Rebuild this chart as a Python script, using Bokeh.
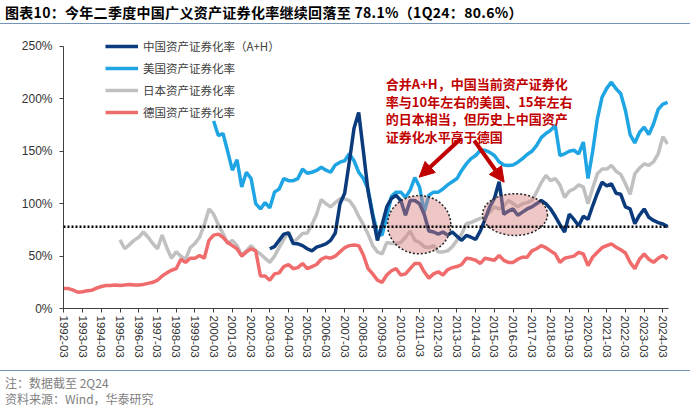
import numpy as np
from bokeh.plotting import figure
from bokeh.models import (Range1d, FixedTicker, Span, Label, Arrow, NormalHead, Div,
                          Legend, LegendItem, ColumnDataSource)
from bokeh.layouts import column
from bokeh.embed import file_html
from bokeh.resources import INLINE

# ---------------- data (quarterly, 1992-03 .. 2024-06), percent ----------------
tick_years = list(range(1992, 2025))
tick_labels = [f"{y}-03" for y in tick_years]
y_ticks = [0, 50, 100, 150, 200, 250]
y_tick_labels = ["0%", "50%", "100%", "150%", "200%", "250%"]

germany = [
    19, 19, 17.5, 15.5,  16, 17, 17.5, 19.5,  21, 22, 22, 22.5,  22, 22.5, 23, 22.5,
    22.5, 23, 24, 25,  27, 31, 34, 36.5,  38, 47, 44, 48,  48, 50.5, 48, 65,
    70, 71, 68, 63,  60, 57, 50, 54,  57, 55, 31, 31,  27, 33, 34, 40,
    42, 38, 39, 43,  38, 40, 42, 47,  49, 48, 50, 54,  58, 60, 60.5, 60,
    51, 38, 33, 27,  25, 32, 36, 38,  32, 33, 38, 43,  43, 35, 29, 33,
    35, 32, 37, 39,  40, 42, 48, 47.4,  46, 43, 48, 47,  46, 50.6, 46, 44,
    44, 47, 49, 49,  55, 57, 60, 58,  55, 52, 44, 48,  49, 50, 53.6, 52,
    41, 49, 53.6, 58,  60, 61.7, 58.5, 56,  53, 44, 38, 47,  52, 47, 44, 48,
    50.6, 47.4,
]

japan = [None] * 12 + [
    65.5, 57, 61, 65,  68, 73, 68, 62,  57, 70, 58, 48,  54, 50, 47, 58,
    62, 68, 80, 95,  90, 80, 71.5, 62,  65, 60, 50.6, 55,  60, 55, 52, 48,
    44, 50, 58, 66,  73, 63, 67, 71.5,  72, 80, 90, 104,  100, 97, 101, 104.7,
    104.7, 103, 97, 88,  80, 71, 60, 54,  52, 63, 62, 62,  63, 68, 74, 65,
    63, 59, 58, 60,  54, 54, 55, 59,  65, 71, 81, 82,  84, 86, 87, 92,
    97, 95, 98, 103,  100, 97, 100, 101,  103, 111, 120, 127,  122, 124, 118, 106,
    112, 114, 118, 116,  100, 115, 128.5, 133,  133, 136.5, 131, 128,  119, 109, 128.5, 134,
    138, 136.5, 140, 147.6,  164, 157,
]

usa = [None] * 32 + [
    179, 165, 167, 150,  132, 142, 116, 130,  124, 100, 95, 101,  96, 111, 114, 124,
    122, 122, 124, 133,  129, 130, 131.7, 134.8,  132, 130, 137, 139.6,  141, 147.6, 141, 130,
    124, 114, 90, 72,  70, 88, 107, 111,  111, 106, 113, 125,  116, 92, 108, 111,
    111, 114, 118, 121,  124, 131.7, 138, 143,  146, 151, 151, 149,  146, 140, 137, 136.5,
    137, 139.6, 143, 147,  150, 155.5, 163, 167,  170, 174.6, 146, 147.6,  150, 151, 147.6, 158.8,
    124, 150, 181, 201.6,  210, 216, 209.6, 205,  189, 166, 158, 168,  173, 166, 176, 190,
    195, 196.8,
]

china = [None] * 44 + [
    57, 59, 65, 71,  72, 62, 61.7, 60,  57, 55, 58.5, 60,  61.7, 65, 72, 100,
    110, 140, 172, 187,  150, 112, 88, 65,  80, 97, 105, 108,  103, 89, 103, 103,
    100, 90, 74, 73,  71, 73, 70, 73,  69, 65, 69.7, 68,  66, 74, 85, 97,
    105, 121, 90, 93,  95, 89, 92, 95,  97, 100, 103, 100,  95, 88, 80, 73,
    90, 85, 79, 88,  85, 98, 110, 120.5,  117, 119, 110, 109,  97, 95, 81, 89,
    95, 87, 84, 82,  80.6, 78.1,
]

china_now = 78.1

series_names = ["中国资产证券化率（A+H）", "美国资产证券化率", "日本资产证券化率", "德国资产证券化率"]
series_colors = ["#0b3b7c", "#1fa5e3", "#c0c0c0", "#f06b6b"]

annotation_lines = [
    "合并A+H，中国当前资产证券化",
    "率与10年左右的美国、15年左右",
    "的日本相当，但历史上中国资产",
    "证券化水平高于德国",
]

title_text = "图表10：今年二季度中国广义资产证券化率继续回落至 78.1%（1Q24：80.6%）"
note_text = "注：数据截至 2Q24"
source_text = "资料来源：Wind，华泰研究"

# ---------------- build ----------------
quarter_x = [tick_years[0] + i * 0.25 for i in range(len(germany))]
src = ColumnDataSource(dict(
    x=quarter_x,
    de=np.array(germany, dtype=float),
    jp=np.array(japan, dtype=float),
    us=np.array(usa, dtype=float),
    cn=np.array(china, dtype=float),
))

CJK = "Noto Sans CJK SC"
LAT = "Liberation Sans"

p = figure(width=700, height=337, output_backend="svg", toolbar_location=None,
           x_range=Range1d(1991.98, 2024.30), y_range=Range1d(0, 261.45),
           min_border_left=63, min_border_right=32, min_border_top=1, min_border_bottom=62)
p.outline_line_color = None
p.grid.visible = False
p.background_fill_color = "white"
p.border_fill_color = "white"

r_jp = p.line("x", "jp", source=src, line_color=series_colors[2], line_width=3.5)
r_de = p.line("x", "de", source=src, line_color=series_colors[3], line_width=3.5)
r_us = p.line("x", "us", source=src, line_color=series_colors[1], line_width=3.5)
r_cn = p.line("x", "cn", source=src, line_color=series_colors[0], line_width=3.5)

p.add_layout(Span(location=china_now, dimension="width", line_color="black",
                  line_width=2.5, line_dash="2 2"))

# highlighted regions
p.ellipse(x=[2010.98, 2016.1], y=[80, 89.6], width=[3.38, 3.47], height=[55.6, 39.8],
          fill_color="#d98080", fill_alpha=0.45, line_color="#222222",
          line_dash="2 2", line_width=1.5)

# arrows
for xs, ys, xe, ye in [(2013.2, 162, 2010.98, 125.3), (2013.92, 160.3, 2015.52, 120.5)]:
    p.add_layout(Arrow(end=NormalHead(size=15, fill_color="#c00000", line_color="#c00000"),
                       x_start=xs, y_start=ys, x_end=xe, y_end=ye,
                       line_color="#c00000", line_width=4))

for i, line in enumerate(annotation_lines):
    p.add_layout(Label(x=2009.2, y=214.4, y_offset=-i * 17.5, text=line,
                       text_font=CJK, text_font_style="bold", text_font_size="13px",
                       text_color="#c00000", text_baseline="middle", text_align="left"))

# axes
xa = p.xaxis[0]
xa.ticker = FixedTicker(ticks=tick_years)
xa.major_label_overrides = {y: l for y, l in zip(tick_years, tick_labels)}
xa.major_label_orientation = "vertical"
xa.minor_tick_line_color = None
xa.major_tick_in = 0
xa.major_tick_out = 4
xa.major_label_standoff = 3
xa.major_label_text_font = LAT
xa.major_label_text_font_size = "11.5px"
xa.major_label_text_color = "#333333"
xa.axis_line_color = "#404040"
xa.major_tick_line_color = "#404040"

ya = p.yaxis[0]
ya.ticker = FixedTicker(ticks=y_ticks)
ya.major_label_overrides = {t: l for t, l in zip(y_ticks, y_tick_labels)}
ya.bounds = (0, 250)
ya.minor_tick_line_color = None
ya.major_tick_in = 0
ya.major_tick_out = 4
ya.major_label_standoff = 7
ya.major_label_text_font = LAT
ya.major_label_text_font_size = "12px"
ya.major_label_text_color = "#333333"
ya.axis_line_color = "#404040"
ya.major_tick_line_color = "#404040"

legend = Legend(items=[LegendItem(label=series_names[0], renderers=[r_cn]),
                       LegendItem(label=series_names[1], renderers=[r_us]),
                       LegendItem(label=series_names[2], renderers=[r_jp]),
                       LegendItem(label=series_names[3], renderers=[r_de])],
                location=(42, 186), padding=0, spacing=2, label_height=20, glyph_height=20,
                glyph_width=33, label_standoff=5, border_line_color=None,
                background_fill_alpha=0, label_text_font=CJK, label_text_font_size="11.5px",
                label_text_color="#404040")
p.add_layout(legend)

title_div = Div(text=(
    "<div style=\"width:690px;padding:4px 0 1.5px 5px;letter-spacing:0.3px;"
    f"font-family:'{CJK}';font-weight:bold;font-size:14px;line-height:17px;color:#000;"
    "border-bottom:1.5px solid #7393b7;white-space:nowrap;\">"
    f"{title_text}</div>"), width=700, height=33, margin=0)

footer_div = Div(text=(
    "<div style=\"width:690px;margin-top:0px;padding:4px 0 0 5px;"
    "border-top:1.5px solid #7393b7;"
    f"font-family:'{CJK}';font-size:12px;line-height:16px;color:#808080;white-space:nowrap;\">"
    f"{note_text}<br>{source_text}</div>"), width=700, height=46, margin=0)

layout = column(title_div, p, footer_div, spacing=0)

open("out.html", "w").write(file_html(layout, INLINE))
